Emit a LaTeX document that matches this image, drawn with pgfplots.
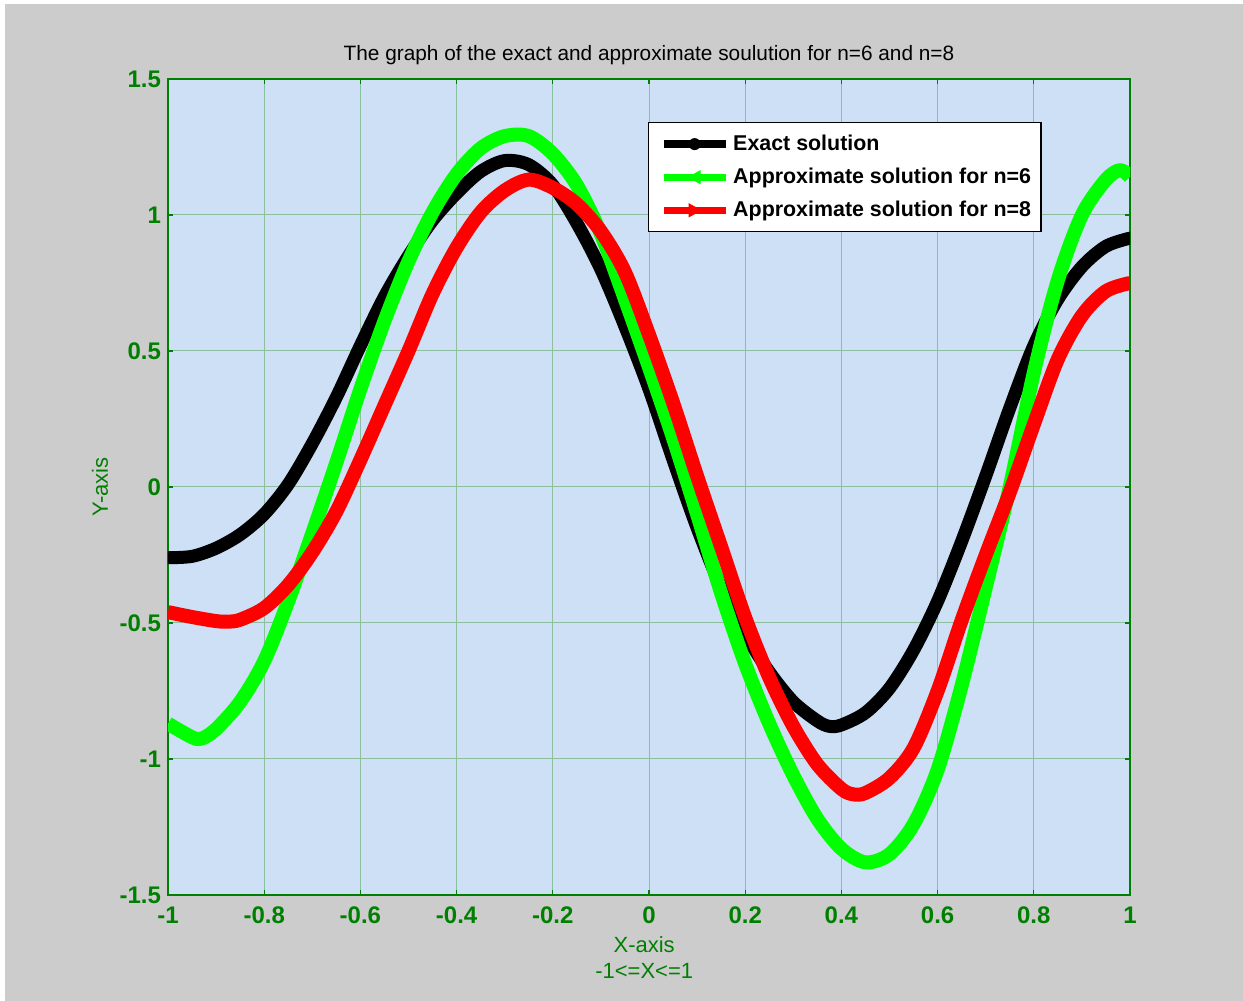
\documentclass[border=0pt]{standalone}
\usepackage{pgfplots}
\pgfplotsset{compat=1.18}
\usepackage{fontspec}
\setmainfont{Liberation Sans}
\definecolor{figbg}{RGB}{204,204,204}
\definecolor{axbg}{RGB}{205,224,246}
\definecolor{axgreen}{RGB}{0,128,0}
\definecolor{gridc}{RGB}{140,190,160}
\definecolor{lgreen}{RGB}{0,255,0}
\definecolor{lred}{RGB}{255,0,0}
\begin{document}
\begin{tikzpicture}[x=1pt,y=1pt]
\fill[white] (0,0) rectangle (621.5,500.5);
\fill[figbg] (2.5,0) rectangle (621.5,498.5);
\path[use as bounding box] (0,0) rectangle (621.5,500.5);
\begin{axis}[
  at={(84pt,53pt)}, anchor=south west,
  scale only axis, width=481pt, height=408pt,
  xmin=-1, xmax=1, ymin=-1.5, ymax=1.5,
  xtick={-1,-0.8,-0.6,-0.4,-0.2,0,0.2,0.4,0.6,0.8,1},
  xticklabels={-1,-0.8,-0.6,-0.4,-0.2,0,0.2,0.4,0.6,0.8,1},
  ytick={-1.5,-1,-0.5,0,0.5,1,1.5},
  yticklabels={-1.5,-1,-0.5,0,0.5,1,1.5},
  ticklabel style={font=\bfseries\fontsize{12}{14}\selectfont, text=axgreen},
  xticklabel style={yshift=-2.5pt},
  axis line style={axgreen, line width=0.8pt},
  tick style={axgreen, line width=0.6pt},
  major tick length=2.5pt,
  tick align=inside,
  grid=major,
  major grid style={gridc, line width=0.5pt},
  axis background/.style={fill=axbg},
  title={The graph of the exact and approximate soulution for n=6 and n=8},
  title style={at={(axis description cs:0.5,1.0319)}, anchor=center, yshift=-7pt, font=\fontsize{10.4}{12}\selectfont, text=black},
  xlabel={X-axis\\-1<=X<=1},
  xlabel style={at={(axis description cs:0.495,0)}, anchor=north, yshift=-20.5pt, inner sep=0pt, align=center, font=\fontsize{11}{13}\selectfont, text=axgreen},
  ylabel={Y-axis},
  ylabel style={at={(axis description cs:-0.0707,0.5)}, anchor=center, rotate=0, font=\fontsize{11}{13}\selectfont, text=axgreen},
  legend cell align=left,
  legend style={at={(axis description cs:0.499,0.947)}, anchor=north west,
    fill=white, draw=black, line width=0.6pt,
    font=\bfseries\fontsize{10.7}{12}\selectfont,
    inner xsep=3pt, inner ysep=4pt, row sep=3.3pt, column sep=0pt,
    nodes={inner sep=2pt, text=black}},
]
\addplot[black, line width=6.5pt, line cap=round, line join=round, smooth,
  legend image code/.code={\path (0pt,0pt); \draw[black, line width=3.6pt, line cap=butt] (1pt,0pt) -- (32pt,0pt); \fill[black, draw=none] (16.5pt,0pt) circle (3pt);}]
  coordinates {(-1,-0.26) (-0.95,-0.255) (-0.9,-0.225) (-0.85,-0.175) (-0.8,-0.10) (-0.75,0.01) (-0.7,0.16) (-0.65,0.33) (-0.6,0.52) (-0.55,0.70) (-0.5,0.85) (-0.45,0.98) (-0.4,1.08) (-0.35,1.16) (-0.3,1.20) (-0.25,1.185) (-0.2,1.11) (-0.15,0.97) (-0.1,0.80) (-0.05,0.59) (0,0.36) (0.05,0.10) (0.1,-0.15) (0.15,-0.37) (0.2,-0.54) (0.25,-0.68) (0.3,-0.79) (0.35,-0.86) (0.375,-0.88) (0.4,-0.875) (0.45,-0.83) (0.5,-0.74) (0.55,-0.60) (0.6,-0.42) (0.65,-0.20) (0.7,0.04) (0.75,0.29) (0.8,0.52) (0.85,0.69) (0.9,0.81) (0.95,0.885) (1,0.915)};
\addlegendentry{Exact solution}
\addplot[lgreen, line width=7pt, line join=round, smooth,
  legend image code/.code={\path (0pt,0pt); \draw[lgreen, line width=3.6pt, line cap=butt] (1pt,0pt) -- (32pt,0pt); \fill[lgreen, draw=none] (13pt,0pt) -- (19.5pt,3.6pt) -- (19.5pt,-3.6pt) -- cycle;}]
  coordinates {(-1,-0.87) (-0.95,-0.92) (-0.93,-0.925) (-0.9,-0.89) (-0.85,-0.79) (-0.8,-0.64) (-0.75,-0.42) (-0.7,-0.17) (-0.65,0.09) (-0.6,0.36) (-0.55,0.61) (-0.5,0.83) (-0.45,1.01) (-0.4,1.15) (-0.35,1.245) (-0.3,1.29) (-0.25,1.29) (-0.2,1.225) (-0.15,1.11) (-0.1,0.93) (-0.05,0.69) (0,0.44) (0.05,0.18) (0.1,-0.10) (0.15,-0.39) (0.2,-0.65) (0.25,-0.87) (0.3,-1.06) (0.35,-1.22) (0.4,-1.33) (0.45,-1.38) (0.5,-1.35) (0.55,-1.24) (0.6,-1.04) (0.65,-0.73) (0.7,-0.37) (0.75,0.0) (0.8,0.42) (0.85,0.76) (0.9,1.0) (0.95,1.13) (0.98,1.165) (1,1.14)};
\addlegendentry{Approximate solution for n=6}
\addplot[lred, line width=7pt, line join=round, smooth,
  legend image code/.code={\path (0pt,0pt); \draw[lred, line width=3.6pt, line cap=butt] (1pt,0pt) -- (32pt,0pt); \fill[lred, draw=none] (20pt,0pt) -- (13.5pt,3.6pt) -- (13.5pt,-3.6pt) -- cycle;}]
  coordinates {(-1,-0.46) (-0.95,-0.478) (-0.9,-0.493) (-0.875,-0.495) (-0.85,-0.488) (-0.8,-0.445) (-0.75,-0.36) (-0.7,-0.24) (-0.65,-0.09) (-0.6,0.10) (-0.55,0.30) (-0.5,0.50) (-0.45,0.71) (-0.4,0.88) (-0.35,1.01) (-0.3,1.09) (-0.25,1.13) (-0.2,1.10) (-0.15,1.04) (-0.1,0.94) (-0.05,0.79) (0,0.56) (0.05,0.31) (0.1,0.04) (0.15,-0.22) (0.2,-0.48) (0.25,-0.70) (0.3,-0.88) (0.35,-1.02) (0.4,-1.11) (0.425,-1.13) (0.45,-1.125) (0.5,-1.07) (0.55,-0.96) (0.6,-0.75) (0.65,-0.49) (0.7,-0.25) (0.75,-0.02) (0.8,0.23) (0.85,0.47) (0.9,0.63) (0.95,0.72) (1,0.75)};
\addlegendentry{Approximate solution for n=8}
\end{axis}
\end{tikzpicture}
\end{document}
